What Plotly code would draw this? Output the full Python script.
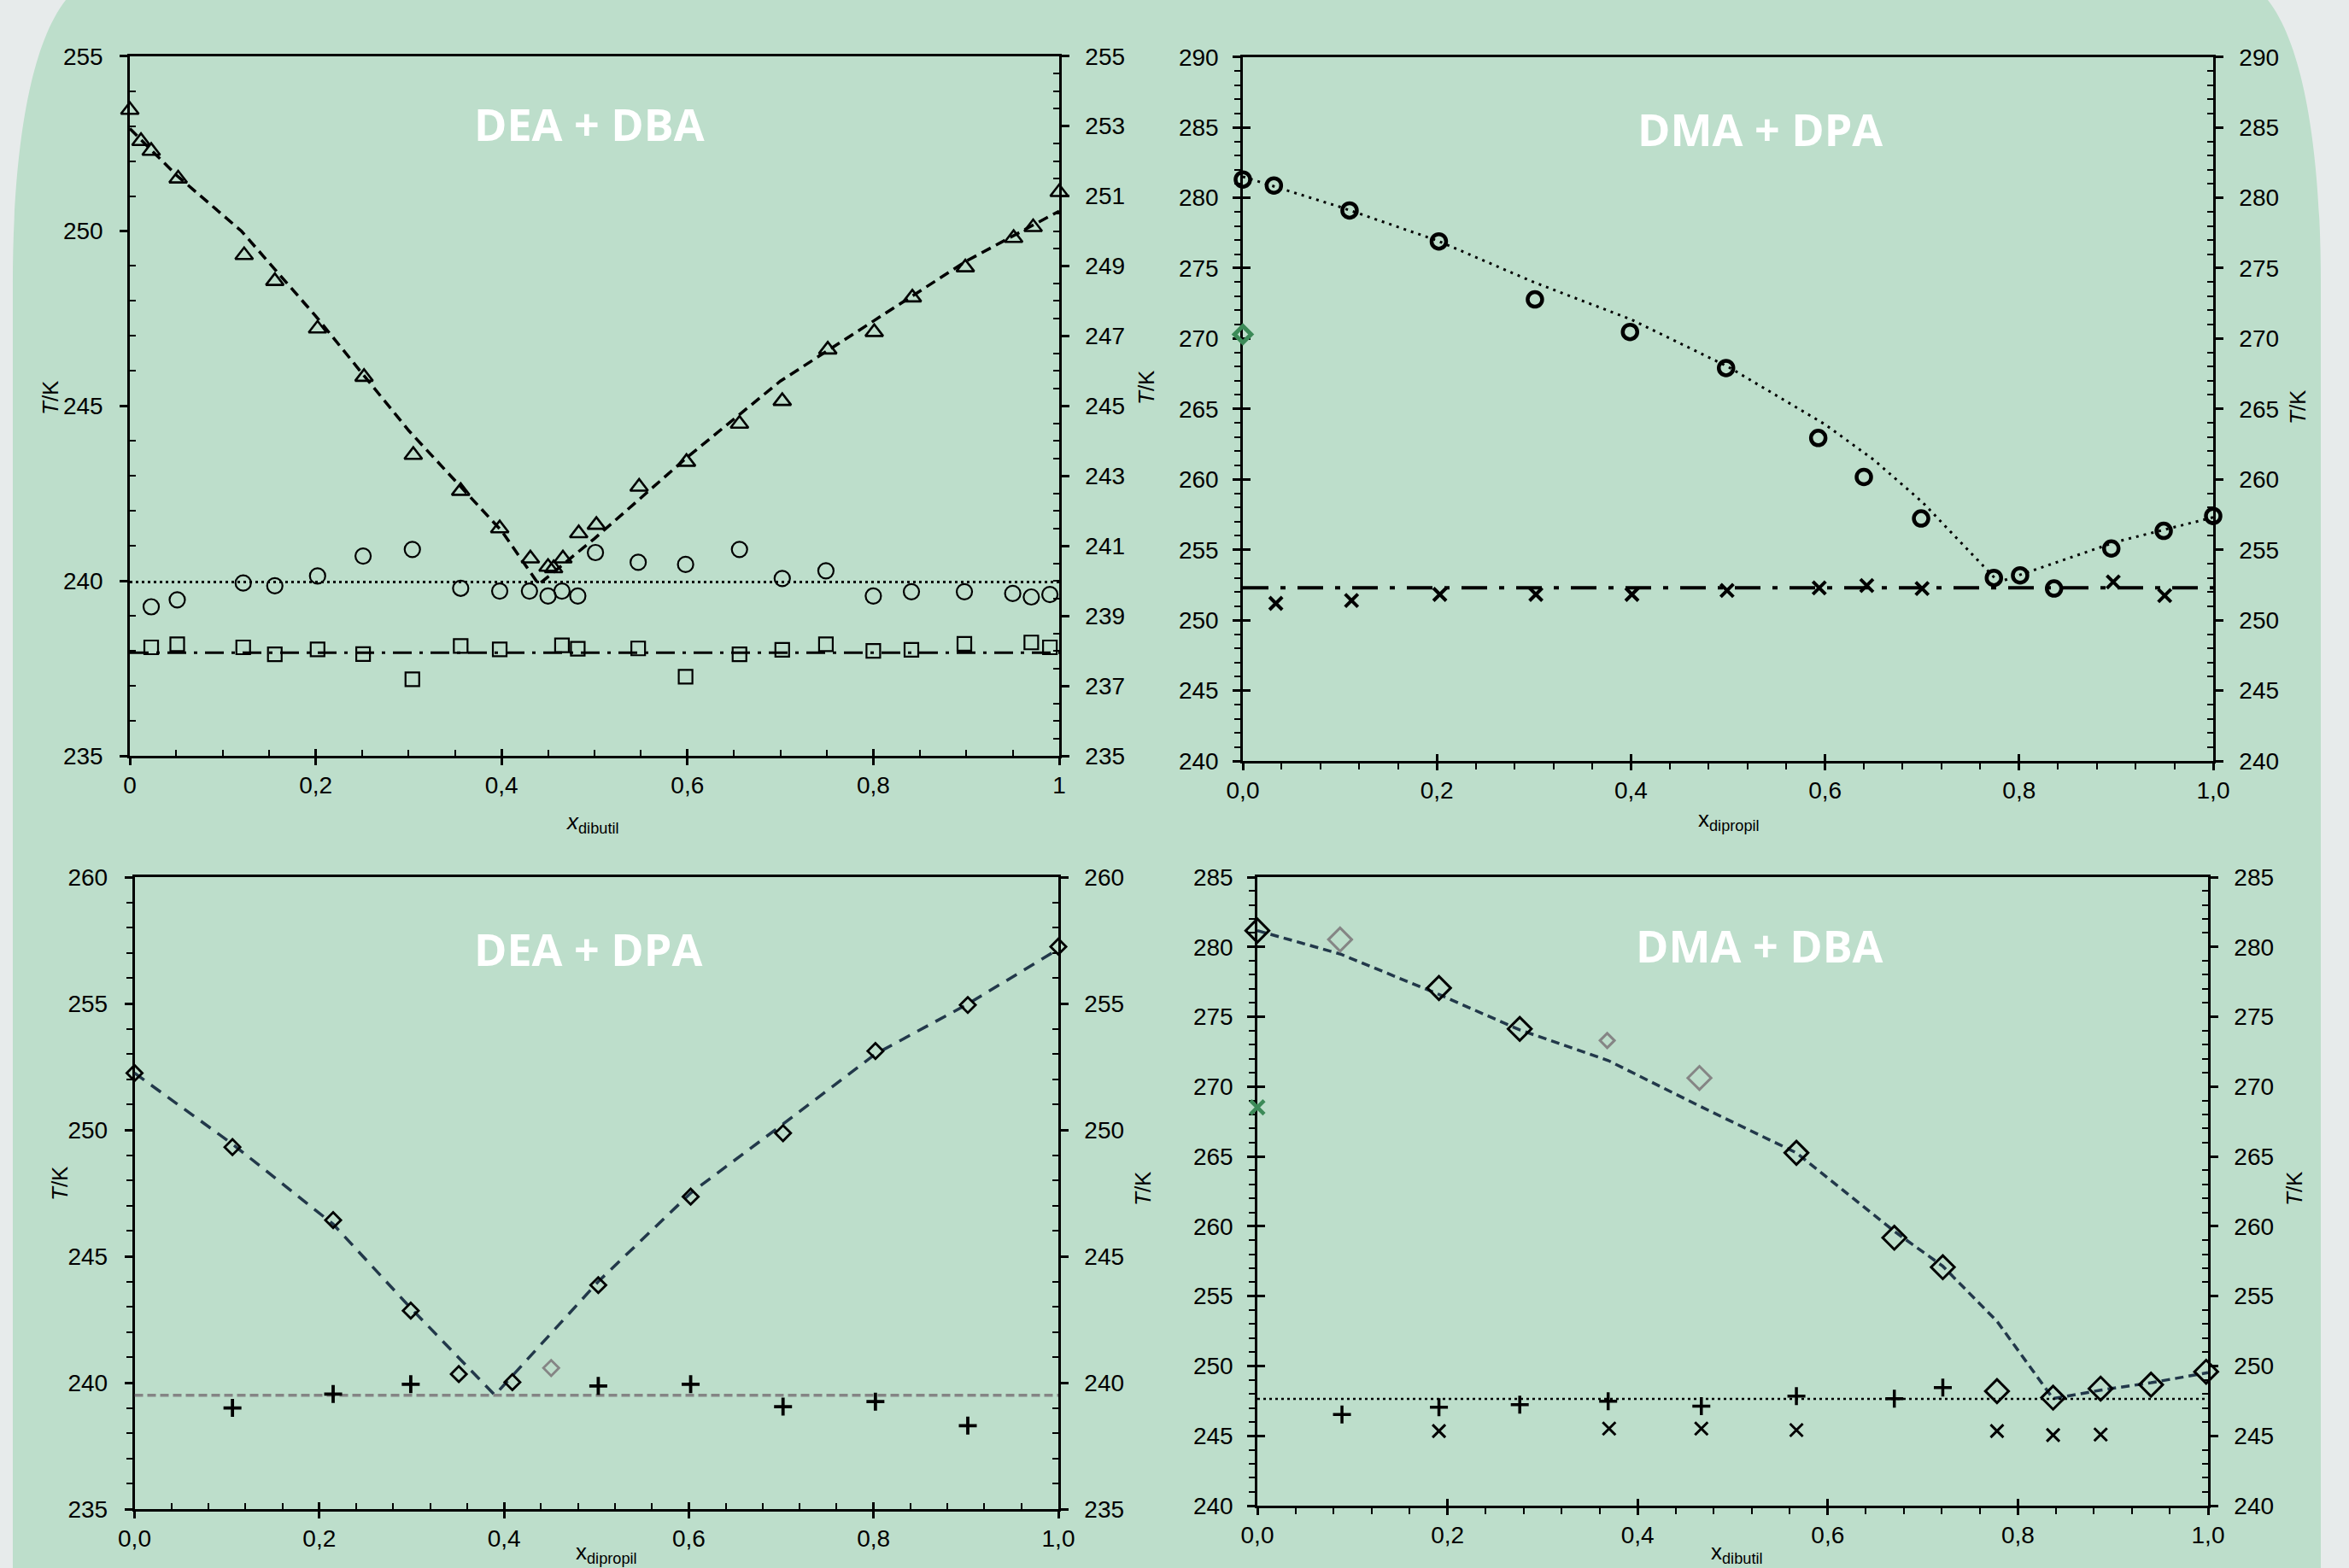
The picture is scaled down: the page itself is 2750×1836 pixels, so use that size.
import numpy as np
import plotly.graph_objects as go

W, H = 2750, 1836
FONT = "Liberation Sans"

# ---------------- tick labels ----------------
p1_xtick_vals = [0, 0.2, 0.4, 0.6, 0.8, 1]
p1_xtick_text = ["0", "0,2", "0,4", "0,6", "0,8", "1"]
xtick_vals = [0.0, 0.2, 0.4, 0.6, 0.8, 1.0]
xtick_text = ["0,0", "0,2", "0,4", "0,6", "0,8", "1,0"]

# ---------------- Panel 1: DEA + DBA ----------------
p1_tri_x = [0.0, 0.012, 0.023, 0.052, 0.123, 0.156, 0.202, 0.252, 0.305, 0.356, 0.398, 0.431, 0.450, 0.456,
            0.466, 0.483, 0.502, 0.548, 0.599, 0.656, 0.702, 0.751, 0.801, 0.842, 0.899, 0.951, 0.972, 1.0]
p1_tri_y = [253.46, 252.57, 252.29, 251.50, 249.31, 248.57, 247.21, 245.83, 243.60, 242.57, 241.50, 240.64, 240.40, 240.36,
            240.64, 241.36, 241.60, 242.69, 243.40, 244.49, 245.14, 246.61, 247.11, 248.10, 248.96, 249.80, 250.11, 251.11]
p1_circ_x = [0.023, 0.051, 0.122, 0.156, 0.202, 0.251, 0.304, 0.356, 0.398, 0.430, 0.450, 0.465, 0.482,
             0.501, 0.547, 0.598, 0.656, 0.702, 0.749, 0.800, 0.841, 0.898, 0.950, 0.970, 0.990]
p1_circ_y = [239.26, 239.46, 239.94, 239.86, 240.14, 240.71, 240.90, 239.79, 239.71, 239.71, 239.57, 239.71, 239.57,
             240.81, 240.53, 240.47, 240.90, 240.07, 240.29, 239.57, 239.69, 239.69, 239.64, 239.54, 239.61]
p1_sq_x = [0.023, 0.051, 0.122, 0.156, 0.202, 0.251, 0.304, 0.356, 0.398, 0.465, 0.482, 0.547, 0.598,
           0.656, 0.702, 0.749, 0.800, 0.841, 0.898, 0.970, 0.990]
p1_sq_y = [238.10, 238.19, 238.10, 237.90, 238.04, 237.91, 237.19, 238.14, 238.04, 238.16, 238.06, 238.07, 237.26,
           237.90, 238.03, 238.19, 238.00, 238.03, 238.20, 238.24, 238.10]
p1_liq_x = [0.0, 0.05, 0.12, 0.2, 0.25, 0.3, 0.4, 0.44, 0.5, 0.6, 0.7, 0.8, 0.9, 1.0]
p1_liq_y = [252.93, 251.6, 250.0, 247.57, 245.93, 244.3, 241.43, 239.9, 241.21, 243.54, 245.71, 247.43, 249.14, 250.57]
p1_eut_x = [0.0, 1.0]
p1_eut_y = [239.97, 239.97]
p1_tr_x = [0.0, 1.0]
p1_tr_y = [237.95, 237.95]

# ---------------- Panel 2: DMA + DPA ----------------
p2_circ_x = [0.0, 0.032, 0.110, 0.202, 0.301, 0.399, 0.498, 0.593, 0.640, 0.699, 0.774, 0.801, 0.836, 0.895, 0.949, 1.0]
p2_circ_y = [281.3, 280.87, 279.1, 276.9, 272.78, 270.47, 267.91, 262.94, 260.17, 257.22, 253.0, 253.18, 252.25,
             255.09, 256.34, 257.4]
p2_x_x = [0.034, 0.112, 0.203, 0.302, 0.401, 0.499, 0.594, 0.643, 0.700, 0.897, 0.950]
p2_x_y = [251.19, 251.4, 251.83, 251.83, 251.83, 252.11, 252.29, 252.46, 252.25, 252.71, 251.75]
p2_liq_x = [0.0, 0.1, 0.2, 0.3, 0.4, 0.5, 0.6, 0.65, 0.7, 0.779, 0.9, 1.0]
p2_liq_y = [281.5, 279.35, 276.97, 274.0, 271.36, 268.0, 263.9, 261.4, 258.4, 252.7, 255.56, 257.3]
p2_eut_x = [0.0, 1.0]
p2_eut_y = [252.3, 252.3]
p2_green_x = [0.0]
p2_green_y = [270.3]

# ---------------- Panel 3: DEA + DPA ----------------
p3_dia_x = [0.0, 0.106, 0.215, 0.299, 0.351, 0.409, 0.502, 0.602, 0.702, 0.802, 0.902, 1.0]
p3_dia_y = [252.25, 249.32, 246.43, 242.85, 240.34, 240.02, 243.86, 247.36, 249.87, 253.12, 254.94, 257.25]
p3_gray_x = [0.451]
p3_gray_y = [240.58]
p3_plus_x = [0.106, 0.215, 0.299, 0.502, 0.602, 0.702, 0.802, 0.902]
p3_plus_y = [239.0, 239.55, 239.94, 239.87, 239.94, 239.05, 239.25, 238.3]
p3_liq_x = [0.0, 0.106, 0.215, 0.299, 0.39, 0.502, 0.602, 0.702, 0.802, 0.902, 1.0]
p3_liq_y = [252.25, 249.44, 246.27, 242.95, 239.51, 244.0, 247.5, 250.23, 253.0, 254.98, 257.15]
p3_eut_x = [0.0, 1.0]
p3_eut_y = [239.5, 239.5]

# ---------------- Panel 4: DMA + DBA ----------------
p4_dia_x = [0.0, 0.191, 0.276, 0.567, 0.670, 0.721, 0.778, 0.837, 0.887, 0.940, 0.998]
p4_dia_y = [281.17, 277.06, 274.13, 265.26, 259.18, 257.07, 248.2, 247.73, 248.38, 248.66, 249.59]
p4_gray_big_x = [0.087, 0.465]
p4_gray_big_y = [280.53, 270.62]
p4_gray_small_x = [0.368]
p4_gray_small_y = [273.3]
p4_plus_x = [0.089, 0.191, 0.276, 0.369, 0.467, 0.567, 0.670, 0.721]
p4_plus_y = [246.52, 247.05, 247.23, 247.48, 247.13, 247.84, 247.66, 248.45]
p4_x_x = [0.191, 0.370, 0.467, 0.567, 0.778, 0.837, 0.887]
p4_x_y = [245.34, 245.52, 245.52, 245.41, 245.34, 245.05, 245.09]
p4_green_x = [0.0]
p4_green_y = [268.51]
p4_liq_x = [0.0, 0.087, 0.191, 0.276, 0.369, 0.466, 0.567, 0.670, 0.721, 0.778, 0.837, 0.887, 0.940, 1.0]
p4_liq_y = [281.17, 279.5, 276.6, 274.06, 271.87, 268.58, 265.26, 259.64, 257.14, 253.2, 247.66, 248.27, 248.8, 249.52]
p4_eut_x = [0.0, 1.0]
p4_eut_y = [247.65, 247.65]

panel_titles = ["DEA + DBA", "DMA + DPA", "DEA + DPA", "DMA + DBA"]

# ---------------- layout helpers ----------------
GREEN_BG = "#bddecb"
GRAY_BG = "#e7ebeb"
NAVY = "#22384a"
GREEN_M = "#3c8a58"
GRAYM = "#858585"


def an(letter, n):
    return letter if n == 1 else f"{letter}{n}"


def ak(letter, n):
    return f"{letter}axis" if n == 1 else f"{letter}axis{n}"


def fx(px):
    return px / W


def fy(py):
    return 1 - py / H


# pixel boxes of the four plot areas: (x0, x1, ytop, ybottom)
boxes = {
    1: (152, 1240, 65.7, 885),
    2: (1455, 2591, 66.7, 891),
    3: (157.5, 1239, 1027, 1767),
    4: (1472, 2585, 1027, 1763),
}
yranges = {1: (235, 255), 2: (240, 290), 3: (235, 260), 4: (240, 285)}
ymajor_left = {1: 5, 2: 5, 3: 5, 4: 5}
ymajor_right = {1: 2, 2: 5, 3: 5, 4: 5}
yminor_left = {1: 1, 2: 1, 3: 1, 4: 1}
yminor_right = {1: 0.5, 2: 1, 3: 1, 4: 1}
xminor = {1: 0.05, 2: 0.04, 3: 0.04, 4: 0.04}
# tick directions: (x_minor, yleft_major, yleft_minor, yright_major, yright_minor, x_cross, yleft_cross)
tickdir = {
    1: ("inside", "outside", "inside", "outside", "inside", True, False),
    2: ("outside", "outside", "outside", "outside", "inside", True, True),
    3: ("inside", "outside", "outside", "outside", "inside", True, False),
    4: ("outside", "outside", "outside", "outside", "inside", True, True),
}
yl_standoff = {1: 14, 2: 11, 3: 14, 4: 11}

tickfont = dict(family=FONT, size=28, color="black")
layout = dict(
    template="none",
    width=W, height=H, margin=dict(l=0, r=0, t=0, b=0, pad=0), autosize=False,
    paper_bgcolor=GRAY_BG, plot_bgcolor="rgba(0,0,0,0)",
    showlegend=False, font=dict(family=FONT, color="black"),
)


def minor_vals(lo, hi, step, major_step):
    vals = np.arange(lo, hi + step / 2, step)
    return [round(float(v), 4) for v in vals if abs((v - lo) / major_step - round((v - lo) / major_step)) > 1e-6]


fig = go.Figure()

for i in range(1, 5):
    x0, x1, yt, yb = boxes[i]
    xdom = [fx(x0), fx(x1)]
    ydom = [fy(yb), fy(yt)]
    ylo, yhi = yranges[i]
    xmd, ylM, ylm, yrM, yrm, xcross, ylcross = tickdir[i]
    xt_vals = p1_xtick_vals if i == 1 else xtick_vals
    xt_text = p1_xtick_text if i == 1 else xtick_text
    base = dict(showgrid=False, zeroline=False, linecolor="black", linewidth=2.5, automargin=False,
                tickcolor="black", tickwidth=2.5, fixedrange=True, tickfont=tickfont,
                layer="below traces")
    layout[ak("x", i)] = dict(
        base, domain=xdom, range=[0, 1], anchor=an("y", i), showline=True, mirror=True,
        ticks="outside", ticklen=8, tickmode="array", tickvals=xt_vals, ticktext=xt_text,
        ticklabelstandoff=0,
        minor=dict(tickmode="array", tickvals=minor_vals(0, 1, xminor[i], 0.2), ticks=xmd,
                   ticklen=7, tickwidth=2, tickcolor="black", showgrid=False))
    yl_major = list(range(ylo, yhi + 1, ymajor_left[i]))
    layout[ak("y", i)] = dict(
        base, domain=ydom, range=[ylo, yhi], anchor=an("x", i), showline=True,
        ticks=ylM, ticklen=9, tickmode="array", tickvals=yl_major, ticktext=[str(v) for v in yl_major],
        ticklabelstandoff=yl_standoff[i],
        minor=dict(tickmode="array", tickvals=minor_vals(ylo, yhi, yminor_left[i], ymajor_left[i]),
                   ticks=ylm, ticklen=7, tickwidth=2, tickcolor="black", showgrid=False))
    yr_major = list(range(ylo, yhi + 1, ymajor_right[i]))
    layout[ak("y", i + 4)] = dict(
        base, domain=ydom, range=[ylo, yhi], anchor=an("x", i), overlaying=an("y", i), side="right",
        showline=True, ticks=yrM, ticklen=9, tickmode="array", tickvals=yr_major,
        ticktext=[str(v) for v in yr_major], ticklabelstandoff=13,
        minor=dict(tickmode="array", tickvals=minor_vals(ylo, yhi, yminor_right[i], ymajor_right[i]),
                   ticks=yrm, ticklen=7, tickwidth=2, tickcolor="black", showgrid=False))
    fig.add_trace(go.Scatter(x=[None], y=[None], xaxis=an("x", i), yaxis=an("y", i + 4),
                             hoverinfo="skip", showlegend=False))
    if xcross:
        layout[ak("x", i + 4)] = dict(
            domain=xdom, range=[0, 1], overlaying=an("x", i), anchor=an("y", i), side="bottom",
            showline=False, showgrid=False, zeroline=False, ticks="inside", ticklen=8, tickwidth=2.5,
            tickcolor="black", tickmode="array", tickvals=xt_vals, showticklabels=False,
            fixedrange=True, automargin=False, layer="below traces")
        fig.add_trace(go.Scatter(x=[None], y=[None], xaxis=an("x", i + 4), yaxis=an("y", i),
                                 hoverinfo="skip", showlegend=False))
    if ylcross:
        layout[ak("y", i + 8)] = dict(
            domain=ydom, range=[ylo, yhi], overlaying=an("y", i), anchor=an("x", i), side="left",
            showline=False, showgrid=False, zeroline=False, ticks="inside", ticklen=9, tickwidth=2.5,
            tickcolor="black", tickmode="array", tickvals=yl_major, showticklabels=False,
            fixedrange=True, automargin=False, layer="below traces")
        fig.add_trace(go.Scatter(x=[None], y=[None], xaxis=an("x", i), yaxis=an("y", i + 8),
                                 hoverinfo="skip", showlegend=False))


def line(i, x, y, color, width, dash):
    fig.add_trace(go.Scatter(x=x, y=y, mode="lines", xaxis=an("x", i), yaxis=an("y", i),
                             line=dict(color=color, width=width, dash=dash), cliponaxis=False,
                             hoverinfo="skip"))


def pts(i, x, y, symbol, size, color, lw):
    fig.add_trace(go.Scatter(x=x, y=y, mode="markers", xaxis=an("x", i), yaxis=an("y", i),
                             marker=dict(symbol=symbol, size=size, color=color,
                                         line=dict(color=color, width=lw)),
                             cliponaxis=False, hoverinfo="skip"))


# Panel 1
line(1, p1_liq_x, p1_liq_y, "black", 3.5, "12px,7px")
line(1, p1_eut_x, p1_eut_y, "black", 3, "3px,4px")
line(1, p1_tr_x, p1_tr_y, "black", 3, "22px,9px,4px,9px")
pts(1, p1_tri_x, p1_tri_y, "triangle-up-open", 18, "black", 2.6)
pts(1, p1_circ_x, p1_circ_y, "circle-open", 18, "black", 2.2)
pts(1, p1_sq_x, p1_sq_y, "square-open", 16, "black", 2.2)

# Panel 2
line(2, p2_liq_x, p2_liq_y, "black", 3, "3px,6px")
line(2, p2_eut_x, p2_eut_y, "black", 4, "30px,14px,6px,14px")
pts(2, p2_circ_x, p2_circ_y, "circle-open", 17, "black", 4.5)
pts(2, p2_x_x, p2_x_y, "x-thin-open", 15, "black", 4)
pts(2, p2_green_x, p2_green_y, "diamond-open", 15, GREEN_M, 5)

# Panel 3
line(3, p3_liq_x, p3_liq_y, NAVY, 3.5, "14px,10px")
line(3, p3_eut_x, p3_eut_y, GRAYM, 3.5, "10px,5px")
pts(3, p3_dia_x, p3_dia_y, "diamond-open", 14, "black", 2.8)
pts(3, p3_gray_x, p3_gray_y, "diamond-open", 14, GRAYM, 2.8)
pts(3, p3_plus_x, p3_plus_y, "cross-thin-open", 15, "black", 3.8)

# Panel 4
line(4, p4_liq_x, p4_liq_y, NAVY, 3.5, "10px,6px")
line(4, p4_eut_x, p4_eut_y, "black", 2.5, "3px,4px")
pts(4, p4_dia_x, p4_dia_y, "diamond-open", 21, "black", 3)
pts(4, p4_gray_big_x, p4_gray_big_y, "diamond-open", 21, GRAYM, 3)
pts(4, p4_gray_small_x, p4_gray_small_y, "diamond-open", 13, GRAYM, 3)
pts(4, p4_plus_x, p4_plus_y, "cross-thin-open", 15, "black", 3.5)
pts(4, p4_x_x, p4_x_y, "x-thin-open", 15, "black", 3)
pts(4, p4_green_x, p4_green_y, "x-thin-open", 16, GREEN_M, 4.5)

# ---------------- annotations ----------------
annotations = []
title_pos = [(690, 145), (2060, 151), (688, 1110), (2060, 1106)]
for t, (px, py) in zip(panel_titles, title_pos):
    annotations.append(dict(text=f"<b>{t}</b>", x=fx(px), y=fy(py), xref="paper", yref="paper",
                            xanchor="center", yanchor="middle", showarrow=False,
                            font=dict(family="Open Sans", size=52, color="white")))

ytitles = [(59, 466), (1342, 454), (2690, 477), (70, 1386), (1338, 1392), (2686, 1392)]
for px, py in ytitles:
    annotations.append(dict(text="<i>T</i>/K", x=fx(px), y=fy(py), xref="paper", yref="paper",
                            xanchor="center", yanchor="middle", showarrow=False, textangle=-90,
                            font=dict(family=FONT, size=26, color="black")))

xtitles = [("<i>x</i><sub>dibutil</sub>", 693, 963), ("x<sub>dipropil</sub>", 2024, 960),
           ("x<sub>dipropil</sub>", 710, 1818), ("x<sub>dibutil</sub>", 2033, 1818)]
for t, px, py in xtitles:
    annotations.append(dict(text=t, x=fx(px), y=fy(py), xref="paper", yref="paper",
                            xanchor="center", yanchor="middle", showarrow=False,
                            font=dict(family=FONT, size=26, color="black")))

layout["annotations"] = annotations


# ---------------- background rounded panel ----------------
def P(x, y):
    return f"{fx(x):.5f},{fy(y):.5f}"


path = ("M " + P(15, 1900) + " L " + P(15, 330) +
        " C " + P(15, 200) + " " + P(30, 60) + " " + P(77, 0) +
        " L " + P(108, -40) + " L " + P(2624, -40) + " L " + P(2655, 0) +
        " C " + P(2702, 60) + " " + P(2717, 200) + " " + P(2717, 330) +
        " L " + P(2717, 1900) + " Z")
layout["shapes"] = [dict(type="path", path=path, xref="paper", yref="paper",
                         fillcolor=GREEN_BG, line=dict(width=0), layer="below")]

fig.update_layout(**layout)
fig.write_html("out.html", config={"displayModeBar": False},
               post_script="document.body.style.margin='0';document.body.style.padding='0';"
                           "document.body.style.background='" + GRAY_BG + "';"
                           "document.documentElement.style.overflow='hidden';")
